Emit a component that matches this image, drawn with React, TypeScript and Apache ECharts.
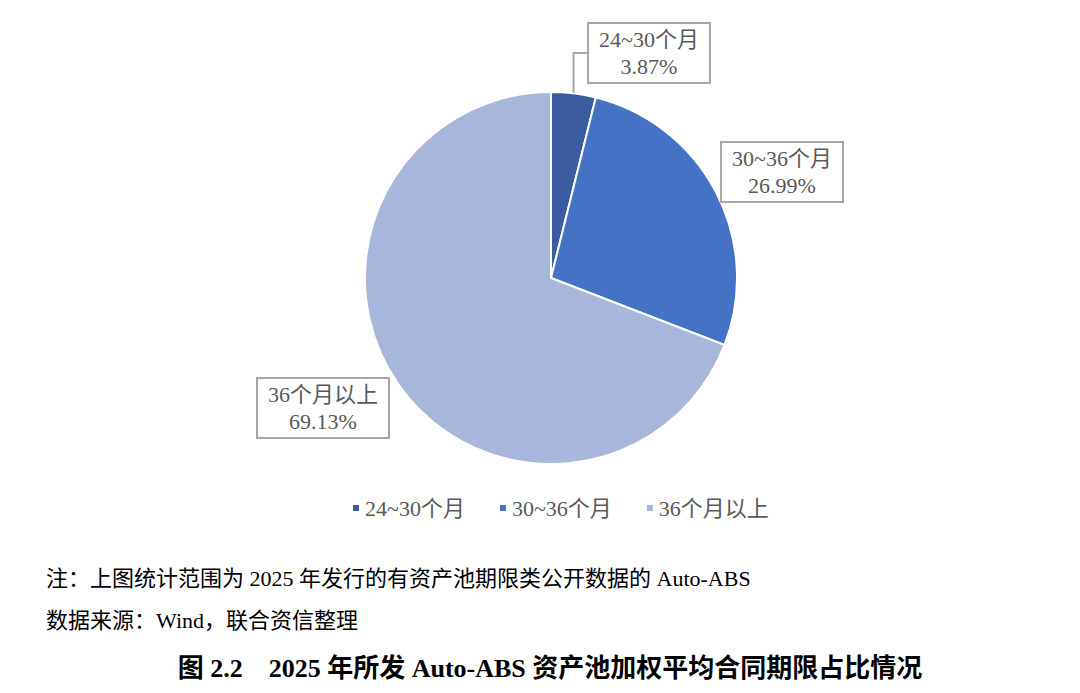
import React, { useEffect, useRef } from "react";
import * as echarts from "echarts";

const categories = ["24~30个月", "30~36个月", "36个月以上"];
const shares = [3.87, 26.99, 69.13];
const colors = ["#3A5DA2", "#4472C4", "#A8B6DC"];
const labelAnchors = [
  [649, 53],
  [782, 172],
  [323, 408],
];
const noteLine = "注：上图统计范围为 2025 年发行的有资产池期限类公开数据的 Auto-ABS";
const sourceLine = "数据来源：Wind，联合资信整理";
const captionText = "图 2.2    2025 年所发 Auto-ABS 资产池加权平均合同期限占比情况";

const LABEL_FONT = "'Liberation Serif', 'Noto Sans CJK SC', serif";

export default function App() {
  const ref = useRef<HTMLDivElement>(null);
  useEffect(() => {
    if (!ref.current) return;
    const chart = echarts.init(ref.current, undefined, { renderer: "svg" });
    chart.setOption({
      animation: false,
      backgroundColor: "#ffffff",
      legend: {
        left: 346,
        top: 492,
        itemWidth: 8,
        itemHeight: 8,
        itemGap: 33,
        icon: "rect",
        textStyle: { fontSize: 22, color: "#595959", fontFamily: LABEL_FONT },
        data: categories,
      },
      series: [
        {
          type: "pie",
          center: [551, 278],
          radius: 186,
          startAngle: 90,
          clockwise: true,
          itemStyle: { borderColor: "#ffffff", borderWidth: 2 },
          label: {
            show: true,
            position: "outside",
            formatter: (p: any) => `${p.name}\n${p.value.toFixed(2)}%`,
            fontSize: 22,
            lineHeight: 27,
            color: "#595959",
            fontFamily: LABEL_FONT,
            backgroundColor: "#ffffff",
            borderColor: "#a6a6a6",
            borderWidth: 2,
            padding: [2, 10],
            align: "center",
          },
          labelLine: {
            show: true,
            lineStyle: { color: "#a6a6a6", width: 2 },
          },
          labelLayout: (params: any) => {
            const a = labelAnchors[params.dataIndex];
            return { x: a[0], y: a[1], align: "center", verticalAlign: "middle" };
          },
          data: categories.map((name, i) => ({
            name,
            value: shares[i],
            itemStyle: { color: colors[i] },
            labelLine: { show: i === 0 },
          })),
        },
      ],
      graphic: [
        {
          type: "text",
          x: 46,
          y: 578,
          style: {
            text: noteLine,
            fontSize: 22,
            fill: "#000000",
            fontFamily: LABEL_FONT,
            textVerticalAlign: "middle",
          },
        },
        {
          type: "text",
          x: 46,
          y: 620,
          style: {
            text: sourceLine,
            fontSize: 22,
            fill: "#000000",
            fontFamily: LABEL_FONT,
            textVerticalAlign: "middle",
          },
        },
        {
          type: "text",
          x: 550,
          y: 668,
          style: {
            text: captionText,
            fontSize: 26,
            fontWeight: "bold",
            fill: "#000000",
            fontFamily: LABEL_FONT,
            textAlign: "center",
            textVerticalAlign: "middle",
          },
        },
      ],
    });
    return () => chart.dispose();
  }, []);
  return (
    <div
      ref={ref}
      style={{ position: "fixed", left: 0, top: 0, width: 1080, height: 693 }}
    />
  );
}
